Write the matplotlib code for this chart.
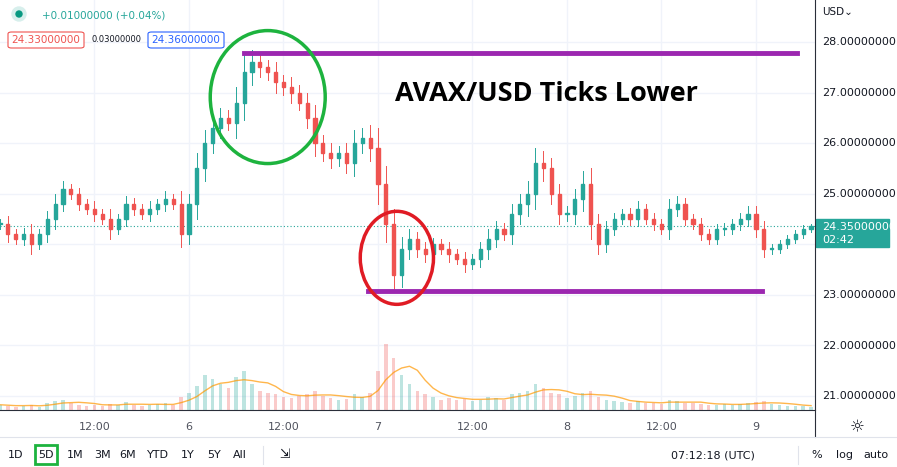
import matplotlib
matplotlib.use("Agg")
import matplotlib.pyplot as plt
from matplotlib.patches import Ellipse, Rectangle, FancyBboxPatch
import numpy as np

closes = [24.4,24.2,24.1,24.2,24.0,24.2,24.5,24.8,25.1,25.0,24.8,24.7,24.6,24.5,24.3,24.5,24.8,24.7,24.6,24.7,
          24.8,24.9,24.8,24.2,24.8,25.5,26.0,26.3,26.5,26.4,26.8,27.4,27.6,27.5,27.4,27.2,27.1,27.0,26.8,26.5,
          26.0,25.8,25.7,25.8,25.6,26.0,26.1,25.9,25.2,24.4,23.4,23.9,24.1,23.9,23.8,24.0,23.9,23.8,23.7,23.6,
          23.7,23.9,24.1,24.3,24.2,24.6,24.8,25.0,25.6,25.5,25.0,24.6,24.6,24.9,25.2,24.4,24.0,24.3,24.5,24.6,
          24.5,24.7,24.5,24.4,24.3,24.7,24.8,24.5,24.4,24.2,24.1,24.3,24.3,24.4,24.5,24.6,24.3,23.9,23.9,24.0,
          24.1,24.2,24.3,24.35]
wicks = [0.1,0.15,0.1,0.12,0.2,0.1,0.15,0.2,0.15,0.1,0.12,0.1,0.15,0.1,0.2,0.1,0.15,0.12,0.1,0.15,
         0.1,0.15,0.1,0.25,0.2,0.3,0.25,0.2,0.2,0.15,0.3,0.35,0.25,0.2,0.15,0.2,0.15,0.2,0.15,0.2,
         0.25,0.15,0.2,0.15,0.2,0.25,0.2,0.25,0.4,0.35,0.3,0.25,0.2,0.15,0.15,0.12,0.1,0.15,0.1,0.15,
         0.1,0.15,0.2,0.15,0.12,0.2,0.2,0.25,0.3,0.25,0.2,0.2,0.15,0.2,0.25,0.3,0.2,0.15,0.12,0.1,
         0.12,0.15,0.1,0.12,0.1,0.2,0.15,0.12,0.1,0.12,0.1,0.1,0.12,0.1,0.12,0.15,0.15,0.15,0.1,0.08,
         0.08,0.08,0.08,0.05]
volumes = [6,5,4,5,6,4,8,10,12,8,6,5,6,5,7,6,9,6,5,6,
           7,8,6,15,20,28,40,35,30,25,38,45,30,22,20,18,15,14,16,18,
           22,16,14,12,13,18,15,20,45,75,60,40,30,22,18,15,12,14,12,13,
           10,12,15,14,12,18,20,22,30,25,20,18,14,16,20,22,15,12,10,9,
           8,10,8,8,7,12,10,8,8,7,6,6,7,6,7,8,9,10,7,6,
           5,5,5,4]
price_ticks = [21, 22, 23, 24, 25, 26, 27, 28]
time_ticks = [12, 24, 36, 48, 60, 72, 84, 96]
time_labels = ["12:00", "6", "12:00", "7", "12:00", "8", "12:00", "9"]
level_high, level_low = 27.78, 23.08

W, H = 897, 467
fig = plt.figure(figsize=(W/100, H/100), dpi=100)
fig.patch.set_facecolor("white")
ax = fig.add_axes([0, 57/H, 815/W, 410/H])
ax.set_xlim(0, 103.5)
ax.set_ylim(20.72, 28.83)
for s in ax.spines.values():
    s.set_visible(False)
ax.set_xticks([]); ax.set_yticks([])
for p in price_ticks:
    ax.axhline(p, color="#f0f3fa", lw=1, zorder=0)
for t in time_ticks:
    ax.axvline(t, color="#f0f3fa", lw=1, zorder=0)

# volume
axv = ax.twinx()
axv.set_ylim(0, max(volumes) / 0.16)
axv.set_axis_off()
opens = [closes[0]] + closes[:-1]
for i, v in enumerate(volumes):
    up = closes[i] >= opens[i]
    axv.bar(i, v, width=0.45, color="#26a69a" if up else "#ef5350", alpha=0.3, zorder=1)
k = 5
ma = [np.mean(volumes[max(0, i-k+1):i+1]) for i in range(len(volumes))]
axv.plot(range(len(volumes)), ma, color="#ff9800", lw=1, alpha=0.7)

# candles
for i, (o, c, w) in enumerate(zip(opens, closes, wicks)):
    col = "#26a69a" if c >= o else "#ef5350"
    ax.plot([i, i], [min(o, c) - w, max(o, c) + w], color=col, lw=0.7, zorder=3)
    ax.add_patch(Rectangle((i - 0.2, min(o, c)), 0.4, max(abs(c - o), 0.02), color=col, zorder=3))

ax.axhline(closes[-1], color="#26a69a", lw=0.8, ls=(0, (1, 2)), zorder=2)
ax.plot([31, 101.2], [level_high, level_high], color="#9c27b0", lw=3.5, zorder=4)
ax.plot([46.7, 96.8], [level_low, level_low], color="#9c27b0", lw=3.5, zorder=4)
ax.add_patch(Ellipse((34.0, 26.91), 14.6, 2.63, fill=False, ec="#1db33e", lw=2.5, zorder=5))
ax.add_patch(Ellipse((50.4, 23.73), 9.3, 1.84, fill=False, ec="#e01b24", lw=2.5, zorder=5))
ax.text(50.2, 26.97, "AVAX/USD Ticks Lower", fontsize=19.5, fontweight="bold",
        family="Open Sans", color="black", va="center", zorder=6)

# right price axis
fig.add_artist(plt.Line2D([815/W, 815/W], [30/H, 1], color="#2a2e39", lw=0.8))
fig.add_artist(plt.Line2D([0, 1], [30/H, 30/H], color="#e0e3eb", lw=0.8))
fig.add_artist(plt.Line2D([0, 815/W], [57/H, 57/H], color="#2a2e39", lw=0.8))
for p in price_ticks:
    if p == 24:
        continue  # hidden behind the last-price tag
    ypx = 42 + (28 - p) * 50.6
    fig.text(822/W, 1 - ypx/H, f"{p:.8f}", fontsize=8, color="#131722", va="center")
fig.text(822/W, 1 - 12/H, "USD\u2304", fontsize=7.5, color="#131722", va="center")
ypx = 42 + (28 - closes[-1]) * 50.6
fig.add_artist(Rectangle((816/W, 1 - (ypx + 20)/H), 73/W, 28/H, color="#26a69a", transform=fig.transFigure))
fig.text(822/W, 1 - ypx/H, "24.35000000", fontsize=8, color="white", va="center")
fig.text(822/W, 1 - (ypx + 13)/H, "02:42", fontsize=8, color="white", va="center")
fig.text(857/W, 1 - 427/H, "\u263c", fontsize=12, color="#131722", ha="center", va="center")

# time axis
for t, lab in zip(time_ticks, time_labels):
    fig.text(t * 7.875 / W, 1 - 427/H, lab, fontsize=8, color="#50535e", ha="center", va="center")

# top legend
fig.add_artist(Ellipse((19/W, 1 - 14/H), 14/W, 14/H, color="#d7efec", transform=fig.transFigure))
fig.add_artist(Ellipse((19/W, 1 - 14/H), 6/W, 6/H, color="#089981", transform=fig.transFigure))
fig.text(42/W, 1 - 15/H, "+0.01000000 (+0.04%)", fontsize=7.5, color="#26a69a", va="center")
for x0, w, txt, col in [(8, 76, "24.33000000", "#ef5350"), (148, 76, "24.36000000", "#2962ff")]:
    fig.add_artist(FancyBboxPatch((x0/W, 1 - 48/H), w/W, 16/H, boxstyle="round,pad=0,rounding_size=0.004",
                                  fc="white", ec=col, lw=0.8, transform=fig.transFigure))
    fig.text((x0 + w/2)/W, 1 - 40/H, txt, fontsize=7.5, color=col, ha="center", va="center")
fig.text(116/W, 1 - 40/H, "0.03000000", fontsize=6, color="#131722", ha="center", va="center")

# bottom toolbar
items = [("1D", 16), ("5D", 46), ("1M", 75), ("3M", 102), ("6M", 128), ("YTD", 158), ("1Y", 188), ("5Y", 214), ("All", 240)]
for lab, x in items:
    fig.text(x/W, 1 - 455/H, lab, fontsize=8, color="#131722", ha="center", va="center")
fig.add_artist(Rectangle((35/W, 1 - 464/H), 22/W, 19/H, fill=False, ec="#1db33e", lw=2, transform=fig.transFigure))
fig.add_artist(plt.Line2D([263/W, 263/W], [1 - 464/H, 1 - 446/H], color="#e0e3eb", lw=0.8))
fig.text(285/W, 1 - 455/H, "\u21f2", fontsize=9, color="#131722", ha="center", va="center")
fig.text(713/W, 1 - 455/H, "07:12:18 (UTC)", fontsize=8, color="#131722", ha="center", va="center")
fig.add_artist(plt.Line2D([798/W, 798/W], [1 - 464/H, 1 - 446/H], color="#e0e3eb", lw=0.8))
fig.text(817/W, 1 - 455/H, "%", fontsize=8, color="#131722", ha="center", va="center")
fig.text(844/W, 1 - 455/H, "log", fontsize=8, color="#131722", ha="center", va="center")
fig.text(876/W, 1 - 455/H, "auto", fontsize=8, color="#131722", ha="center", va="center")

fig.savefig("out.png", dpi=100)
